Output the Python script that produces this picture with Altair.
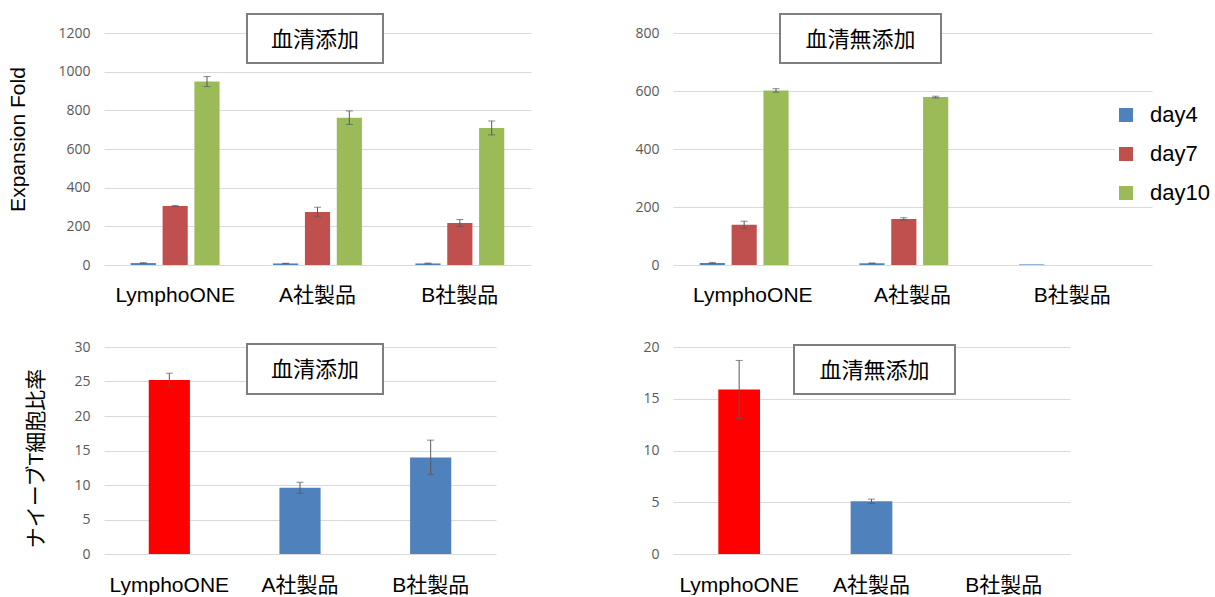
import altair as alt
import pandas as pd

products = ["LymphoONE", "A社製品", "B社製品"]
days = ["day4", "day7", "day10"]
day_colors = ["#4f81bd", "#c0504d", "#9bbb59"]

# Expansion fold, serum added (血清添加)
serum_day4 = [10, 8, 8]
serum_day4_err = [2, 1, 2]
serum_day7 = [305, 274, 217]
serum_day7_err = [3, 25, 18]
serum_day10 = [949, 762, 709]
serum_day10_err = [26, 35, 36]

# Expansion fold, serum free (血清無添加)
free_day4 = [7, 6, 2]
free_day4_err = [2, 1, None]
free_day7 = [139, 159, None]
free_day7_err = [12, 4, None]
free_day10 = [602, 579, None]
free_day10_err = [6, 3, None]

# Naive T cell ratio (ナイーブT細胞比率)
naive_serum = [25.2, 9.6, 14.0]
naive_serum_err = [1.0, 0.8, 2.5]
naive_free = [15.9, 5.1, None]
naive_free_err = [2.8, 0.2, None]

y_ticks_serum = [0, 200, 400, 600, 800, 1000, 1200]
y_ticks_free = [0, 200, 400, 600, 800]
y_ticks_naive_serum = [0, 5, 10, 15, 20, 25, 30]
y_ticks_naive_free = [0, 5, 10, 15, 20]

LATIN = "Liberation Sans, Arial, Noto Sans CJK JP"
CJK = "Noto Sans CJK JP"
GRID = "#d9d9d9"
ERR = "#595959"


def long_df(d4, e4, d7, e7, d10, e10):
    rows = []
    for vals, errs, day in ((d4, e4, "day4"), (d7, e7, "day7"), (d10, e10, "day10")):
        for p, v, e in zip(products, vals, errs):
            rows.append({"product": p, "day": day, "value": v, "err": e})
    return pd.DataFrame(rows)


def y_axis(values, title, title_y, title_x):
    kw = dict(values=values, format="d", grid=True, gridColor=GRID, domain=False,
              ticks=False, labelPadding=14, labelFont="Open Sans", labelFontSize=14,
              labelColor="#595959")
    if title:
        kw.update(title=title, titleFont=LATIN, titleFontSize=21,
                  titleFontWeight="normal", titleColor="black", titleAngle=-90,
                  titleAlign="center", titleBaseline="middle",
                  titleX=title_x, titleY=title_y)
    else:
        kw.update(title=None)
    return alt.Axis(**kw)


def x_axis(pad):
    return alt.Axis(title=None, labelAngle=0, domain=False, ticks=False, grid=False,
                    labelPadding=pad, labelFont=LATIN, labelFontSize=21,
                    labelColor="black")


def box_layers(x0, x1, y0, y1, label):
    one = alt.Data(values=[{"k": 1}])
    rect = alt.Chart(one).mark_rect(fill="white", stroke="#7f7f7f", strokeWidth=2).encode(
        x=alt.value(x0), x2=alt.value(x1), y=alt.value(y0), y2=alt.value(y1))
    txt = alt.Chart(one).mark_text(font=CJK, fontSize=22, color="black",
                                   align="center", baseline="middle").encode(
        x=alt.value((x0 + x1) / 2), y=alt.value((y0 + y1) / 2 + 1), text=alt.value(label))
    return [rect, txt]


legend = alt.Legend(orient="none", legendX=1011, legendY=71, title=None,
                    symbolType="square", symbolSize=196, symbolStrokeWidth=0,
                    labelFont=LATIN, labelFontSize=22, labelColor="black",
                    labelOffset=13, rowPadding=17, padding=0, fillColor="white")


def grouped_panel(df, ymax, ticks, width, height, ytitle, box, label):
    yax = y_axis(ticks, ytitle, 106, -86)
    x = alt.X("product:N", sort=products,
              scale=alt.Scale(domain=products, paddingInner=0, paddingOuter=0),
              axis=x_axis(19))
    xo = alt.XOffset("day:N", sort=days,
                     scale=alt.Scale(domain=days, paddingInner=0.21, paddingOuter=0.84))
    yscale = alt.Scale(domain=[0, ymax], nice=False)
    base = alt.Chart(df)
    bars = base.mark_bar().encode(
        x=x, xOffset=xo,
        y=alt.Y("value:Q", scale=yscale, axis=yax),
        color=alt.Color("day:N", sort=days,
                        scale=alt.Scale(domain=days, range=day_colors), legend=legend))
    eb = base.transform_filter("isValid(datum.err) && datum.err > 0").transform_calculate(
        lo="datum.value - datum.err", hi="datum.value + datum.err")
    rule = eb.mark_rule(color=ERR, strokeWidth=1).encode(
        x=x, xOffset=xo, y=alt.Y("lo:Q", scale=yscale, axis=yax), y2="hi:Q")
    cap_lo = eb.mark_tick(color=ERR, thickness=1, size=7, orient="horizontal").encode(
        x=x, xOffset=xo, y=alt.Y("lo:Q", scale=yscale, axis=yax))
    cap_hi = eb.mark_tick(color=ERR, thickness=1, size=7, orient="horizontal").encode(
        x=x, xOffset=xo, y=alt.Y("hi:Q", scale=yscale, axis=yax))
    return alt.layer(bars, rule, cap_lo, cap_hi, *box_layers(*box, label)).properties(
        width=width, height=height)


def single_panel(vals, errs, ymax, ticks, width, height, ytitle, box, label):
    df = pd.DataFrame({"product": products, "value": vals, "err": errs})
    yax = y_axis(ticks, ytitle, 111, -68)
    x = alt.X("product:N", sort=products,
              scale=alt.Scale(domain=products, paddingInner=0.685, paddingOuter=0.3425),
              axis=x_axis(20))
    yscale = alt.Scale(domain=[0, ymax], nice=False)
    base = alt.Chart(df)
    bars = base.mark_bar().encode(
        x=x, y=alt.Y("value:Q", scale=yscale, axis=yax),
        color=alt.condition(alt.datum.product == "LymphoONE",
                            alt.value("#ff0000"), alt.value("#4f81bd")))
    eb = base.transform_filter("isValid(datum.err) && datum.err > 0").transform_calculate(
        lo="datum.value - datum.err", hi="datum.value + datum.err")
    rule = eb.mark_rule(color=ERR, strokeWidth=1).encode(
        x=x, y=alt.Y("lo:Q", scale=yscale, axis=yax), y2="hi:Q")
    cap_lo = eb.mark_tick(color=ERR, thickness=1, size=7, orient="horizontal").encode(
        x=x, y=alt.Y("lo:Q", scale=yscale, axis=yax))
    cap_hi = eb.mark_tick(color=ERR, thickness=1, size=7, orient="horizontal").encode(
        x=x, y=alt.Y("hi:Q", scale=yscale, axis=yax))
    return alt.layer(bars, rule, cap_lo, cap_hi, *box_layers(*box, label)).properties(
        width=width, height=height)


serum_df = long_df(serum_day4, serum_day4_err, serum_day7, serum_day7_err,
                   serum_day10, serum_day10_err)
free_df = long_df(free_day4, free_day4_err, free_day7, free_day7_err,
                  free_day10, free_day10_err)

tl = grouped_panel(serum_df, 1200, y_ticks_serum, 427, 232, "Expansion Fold",
                   (143, 279, -19, 30), "血清添加")
tr = grouped_panel(free_df, 800, y_ticks_free, 479, 232, None,
                   (107, 268, -19, 30), "血清無添加")
bl = single_panel(naive_serum, naive_serum_err, 30, y_ticks_naive_serum, 392, 207,
                  "ナイーブT細胞比率", (143, 279, -3, 47), "血清添加")
br = single_panel(naive_free, naive_free_err, 20, y_ticks_naive_free, 397, 207, None,
                  (121, 282, -2, 47), "血清無添加")

chart = alt.concat(tl, tr, bl, br, columns=2, spacing={"row": 82, "column": 142},
                   bounds="flush").properties(
    padding={"left": 6, "top": 13, "right": 0, "bottom": 0},
    background="white",
).configure_view(stroke="transparent", strokeWidth=0
).configure_axisX(grid=False, domain=False, ticks=False)

chart.save("out.html", embed_options={"renderer": "svg", "actions": False})
